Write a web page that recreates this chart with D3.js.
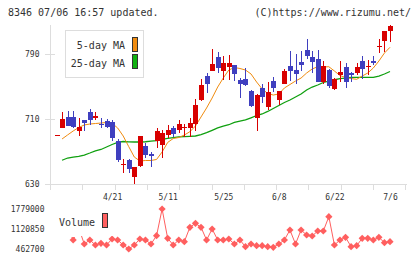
<!DOCTYPE html>
<html>
<head>
<meta charset="utf-8">
<script src="https://cdn.jsdelivr.net/npm/d3@7"></script>
<style>
  body { margin: 0; background: #fff; }
  svg { display: block; }
  text { font-family: "DejaVu Sans Mono", monospace; fill: #333; }
</style>
</head>
<body>
<svg width="420" height="259"></svg>
<script>
// trading days 2020/4/7 - 7/6
var dates = ['4/7','4/8','4/9','4/10','4/13','4/14','4/15','4/16','4/17','4/20',
  '4/21','4/22','4/23','4/24','4/27','4/28','4/30','5/1','5/7','5/8',
  '5/11','5/12','5/13','5/14','5/15','5/18','5/19','5/20','5/21','5/22',
  '5/25','5/26','5/27','5/28','5/29','6/1','6/2','6/3','6/4','6/5',
  '6/8','6/9','6/10','6/11','6/12','6/15','6/16','6/17','6/18','6/19',
  '6/22','6/23','6/24','6/25','6/26','6/29','6/30','7/1','7/2','7/3','7/6']

var open = [690,699,712,712,695,708,718,711,704,707,706,682,654,659,638,652,676,666,683,678,
  690,698,696,699,699,704,733,763,769,786,769,774,776,758,759,744,711,748,724,757,
  733,753,775,770,780,795,786,784,755,770,747,764,774,766,767,781,774,781,800,806,818]
var high = [690,718,720,720,711,709,722,718,711,710,708,685,660,660,650,689,680,669,698,696,
  702,701,709,704,711,734,759,766,796,792,787,789,777,760,773,745,740,753,755,762,
  744,772,794,790,794,809,794,795,781,772,760,781,779,768,779,788,783,788,808,818,826]
var low = [690,699,701,699,689,695,702,708,699,699,682,656,643,643,630,650,661,650,674,661,
  686,688,692,688,687,695,732,742,769,767,758,758,757,736,751,725,695,729,721,743,
  727,753,757,753,769,784,767,755,753,748,745,756,748,755,764,759,764,776,791,793,805]
var close = [690,710,701,700,700,704,708,714,703,700,686,658,654,648,650,689,665,664,695,693,
  696,691,704,700,705,727,752,753,778,772,779,779,765,753,751,726,739,737,743,748,
  744,769,769,765,776,788,780,755,775,750,759,768,755,764,774,771,775,778,800,818,824]

var ma5 = [null,685,690,694.9,699.2,702.3,703.5,704.1,704.7,705.4,704.4,698.6,688.7,675.5,662.7,657.8,658.4,658.4,659.7,668.9,
  680.7,685.6,686.8,689.9,694,701,712.2,723.3,735.6,749.2,760.3,770.2,773.3,772.1,770.2,765.3,755.4,746.8,741.2,739.3,
  740.6,748,752.3,756.6,760.3,766.5,771.5,774.3,773.9,774.3,769,763.4,761,759.7,758.7,762.8,766.5,772.7,781.3,791.2,798.3]
var ma25 = [null,658.7,661.5,662.7,663.6,665.2,667.7,670.4,672,675.1,678.2,680.7,681.9,681.5,681.3,681.3,681.6,682.3,683.1,684.6,
  685.8,686.8,687.7,688,688.3,688.7,690.5,692.8,695.7,698.6,701,702.6,705.4,707.2,708.5,711.2,714,715.9,719,722.7,
  726.4,730.1,733.2,736.9,740.6,745.5,749.2,751.7,754.8,756.6,758.2,759.5,760.3,761.2,761.2,761.2,761.2,761.2,762.8,765.3,768.4]

var volume = [1250000,1200000,1180000,759000,1154000,627000,759000,594000,650000,594000,
  792000,759000,594000,462700,594000,792000,759000,627000,900000,1779000,
  815000,594000,759000,703000,1177000,1308000,1177000,759000,1121000,759000,
  759000,792000,627000,759000,538000,627000,571000,571000,538000,519000,
  627000,759000,1088000,627000,1088000,923000,890000,1055000,1055000,1526000,
  594000,759000,848000,538000,571000,815000,815000,759000,848000,670000,703000]

var priceTicks = [630, 710, 790]
var volTicks = [462700, 1120850, 1779000]
var dateTicks = ['4/21','5/11','5/25','6/8','6/22','7/6']

var svg = d3.select('svg')
var x = d3.scalePoint().domain(dates).range([56.5, 390])
var y = d3.scaleLinear().domain([630, 790]).range([183.5, 54])
var yv = d3.scaleLinear().domain([462700, 1779000]).range([249, 209])
var px = function (d) { return Math.round(x(d)) }

var candles = dates.map(function (d, i) {
  return { date: d, o: open[i], h: high[i], l: low[i], c: close[i] }
})

// title
svg.append('text').attr('x', 8).attr('y', 16).style('font-size', '10px').text('8346 07/06 16:57 updated.')
svg.append('text').attr('x', 411).attr('y', 16).attr('text-anchor', 'end').style('font-size', '10px').text('(C)https://www.rizumu.net/')

// axes
var grid = svg.append('g').attr('stroke', '#ddd').attr('shape-rendering', 'crispEdges')
grid.append('line').attr('x1', 50.5).attr('x2', 50.5).attr('y1', 25).attr('y2', 190)
grid.append('line').attr('x1', 50).attr('x2', 407).attr('y1', 184.5).attr('y2', 184.5)
grid.selectAll('.xt').data(d3.range(12)).join('line')
  .attr('x1', function (i) { return Math.round(50 + i * 32.3) + 0.5 })
  .attr('x2', function (i) { return Math.round(50 + i * 32.3) + 0.5 })
  .attr('y1', 184).attr('y2', 190)

var yAxis = svg.append('g').attr('transform', 'translate(55,0)')
  .call(d3.axisLeft(y).tickValues(priceTicks).tickSize(10).tickPadding(5.5))
yAxis.select('.domain').remove()
yAxis.selectAll('line').attr('stroke', '#ddd').attr('shape-rendering', 'crispEdges')
yAxis.selectAll('text').style('font-size', '8px').attr('fill', '#333').style('font-family', '"DejaVu Sans Mono", monospace')

var xAxis = svg.append('g').attr('transform', 'translate(0,193)')
  .call(d3.axisBottom(x).tickValues(dateTicks).tickSize(0).tickPadding(0))
xAxis.select('.domain').remove()
xAxis.selectAll('text').style('font-size', '8px').attr('fill', '#333').attr('dy', '0.9em').style('font-family', '"DejaVu Sans Mono", monospace')

// moving averages
var lineOf = function (arr) {
  return d3.line()
    .defined(function (d, i) { return arr[i] != null })
    .x(function (d) { return x(d) })
    .y(function (d, i) { return y(arr[i]) })
}
svg.append('path').datum(dates).attr('d', lineOf(ma25)).attr('fill', 'none').attr('stroke', '#10a010').attr('stroke-width', 1.3)
svg.append('path').datum(dates).attr('d', lineOf(ma5)).attr('fill', 'none').attr('stroke', '#f08c10').attr('stroke-width', 1)

// candles
var cg = svg.append('g').attr('shape-rendering', 'crispEdges')
var col = function (d) { return d.c >= d.o ? '#d80000' : '#3f3fbf' }
cg.selectAll('.wick').data(candles).join('line')
  .attr('x1', function (d) { return px(d.date) + 0.5 })
  .attr('x2', function (d) { return px(d.date) + 0.5 })
  .attr('y1', function (d) { return y(d.h) })
  .attr('y2', function (d) { return y(d.l) })
  .attr('stroke', col)
cg.selectAll('.body').data(candles).join('rect')
  .attr('x', function (d) { return px(d.date) - 2 })
  .attr('width', 5)
  .attr('y', function (d) { return Math.round(y(Math.max(d.o, d.c))) })
  .attr('height', function (d) { return Math.max(1, Math.round(Math.abs(y(d.o) - y(d.c)))) })
  .attr('fill', col)

// price legend
var lg = svg.append('g')
lg.append('rect').attr('x', 65.5).attr('y', 30.5).attr('width', 78).attr('height', 47).attr('fill', '#fff').attr('stroke', '#ddd')
lg.append('text').attr('x', 125).attr('y', 49).attr('text-anchor', 'end').style('font-size', '10px').text('5-day MA')
lg.append('text').attr('x', 125).attr('y', 66.5).attr('text-anchor', 'end').style('font-size', '10px').text('25-day MA')
lg.append('rect').attr('x', 132.5).attr('y', 37.5).attr('width', 5).attr('height', 14).attr('fill', '#f08c10').attr('stroke', '#333')
lg.append('rect').attr('x', 132.5).attr('y', 54.5).attr('width', 5).attr('height', 14).attr('fill', '#10b010').attr('stroke', '#333')

// volume
var vAxis = svg.append('g').attr('transform', 'translate(44.5,0)')
  .call(d3.axisLeft(yv).tickValues(volTicks).tickSize(0).tickPadding(0).tickFormat(d3.format('d')))
vAxis.select('.domain').remove()
vAxis.selectAll('text').style('font-size', '8px').attr('fill', '#333').style('font-family', '"DejaVu Sans Mono", monospace')

svg.append('path').datum(dates)
  .attr('d', d3.line().x(function (d) { return x(d) }).y(function (d, i) { return yv(volume[i]) }))
  .attr('fill', 'none').attr('stroke', '#ff5f5f').attr('stroke-width', 1)
svg.selectAll('.vp').data(dates).join('path')
  .attr('transform', function (d, i) { return 'translate(' + x(d) + ',' + yv(volume[i]) + ')' })
  .attr('d', 'M0,-3.6L3.6,0L0,3.6L-3.6,0Z')
  .attr('fill', '#ff5f5f')

var vl = svg.append('g')
vl.append('rect').attr('x', 52).attr('y', 204).attr('width', 24).attr('height', 33).attr('fill', '#fff')
vl.append('rect').attr('x', 76).attr('y', 204).attr('width', 37).attr('height', 32).attr('fill', '#fff')
vl.append('text').attr('x', 59).attr('y', 226).style('font-size', '10px').text('Volume')
vl.append('rect').attr('x', 102.5).attr('y', 213.5).attr('width', 5).attr('height', 14).attr('fill', '#ff6060').attr('stroke', '#333')
</script>
</body>
</html>
